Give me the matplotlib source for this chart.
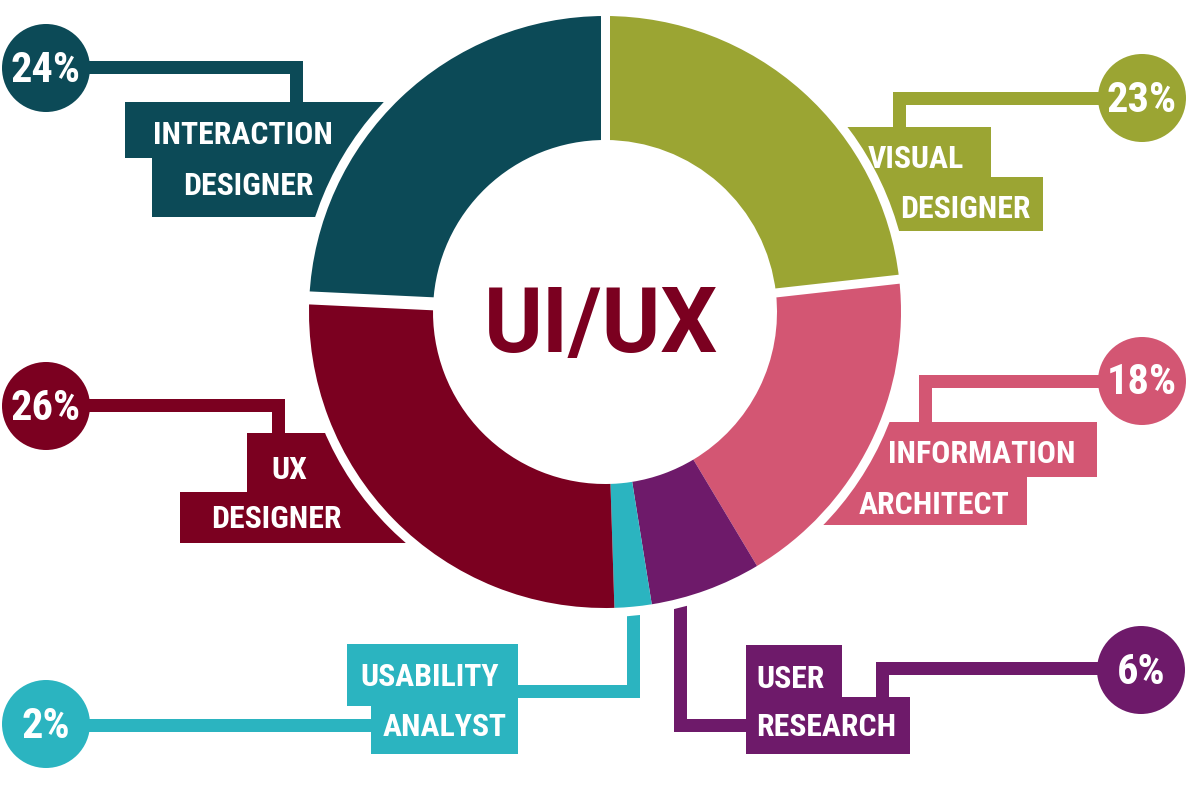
import matplotlib
matplotlib.use("Agg")
import matplotlib.pyplot as plt
from matplotlib.patches import Circle, Rectangle
from matplotlib.lines import Line2D
from matplotlib import font_manager
import numpy as np

# ---------------- data ----------------
roles_top = ["VISUAL", "INFORMATION", "USER", "USABILITY", "UX", "INTERACTION"]
roles_bottom = ["DESIGNER", "ARCHITECT", "RESEARCH", "ANALYST", "DESIGNER", "DESIGNER"]
shares = [23, 18, 6, 2, 26, 24]
colors = ["#9BA533", "#D35673", "#6E1A6A", "#2BB4C0", "#7B0020", "#0C4A57"]
center_title = "UI/UX"

# ---------------- fonts ----------------
ttf = font_manager.fontManager.ttflist
names = {f.name for f in ttf}
label_family = None
for fam in ["Liberation Sans Narrow", "Roboto Condensed", "Open Sans Condensed",
            "Noto Sans Condensed", "DejaVu Sans Condensed"]:
    if fam in names:
        label_family = fam
        break
if label_family is None:
    extra = sorted(n for n in names if ("Condensed" in n or "Narrow" in n)
                   and "Mono" not in n and "Serif" not in n and "CJK" not in n)
    if extra:
        label_family = extra[0]
if label_family is None:
    label_family = "Roboto" if "Roboto" in names else "DejaVu Sans"
LABEL_FONT = dict(family=label_family, weight="bold")
TITLE_FAMILY = "Roboto" if "Roboto" in names else "DejaVu Sans"

# ---------------- figure ----------------
W, H = 1187, 796
fig = plt.figure(figsize=(W / 100, H / 100), dpi=100)
ax = fig.add_axes([0, 0, 1, 1])
ax.set_xlim(0, W)
ax.set_ylim(H, 0)
PX = 72 / 100  # points per pixel
renderer = fig.canvas.get_renderer()


def fit_size(text, target_px, cap_pt, **kw):
    t = ax.text(0, 0, text, fontsize=20, **kw)
    w = t.get_window_extent(renderer).width
    t.remove()
    return min(20 * target_px / w, cap_pt)


LABEL_SIZE = fit_size("INTERACTION", 180, 25, **LABEL_FONT)
PCT_SIZE = fit_size("24%", 70, 34, **LABEL_FONT)
TITLE_SIZE = fit_size(center_title, 234, 70, family=TITLE_FAMILY,
                      weight="bold")

CX, CY, R, RIN = 605, 312, 296, 172

# layout of the call-outs (pixel coordinates, y downwards)
layout = [
    dict(circle=(1142, 98), path=[(1142, 98), (899, 98), (899, 132)],
         rects=[(800, 127, 991, 177), (800, 177, 1043, 231)],
         t1=(916, 157), t2=(965, 207)),
    dict(circle=(1142, 381), path=[(1142, 381), (925, 381), (925, 426)],
         rects=[(820, 422, 1097, 477), (800, 477, 1027, 525)],
         t1=(982, 452), t2=(934, 503)),
    dict(circle=(1141, 670), path=[(1141, 668), (882, 668), (882, 700)],
         rects=[(746, 645, 842, 697), (746, 697, 910, 754)],
         t1=(791, 677), t2=(826, 725),
         path2=[(680, 600), (680, 725), (750, 725)]),
    dict(circle=(46, 724), path=[(46, 725), (375, 725)],
         rects=[(347, 644, 518, 706), (371, 706, 518, 754)],
         t1=(430, 675), t2=(445, 725),
         path2=[(633, 600), (633, 691), (514, 691)]),
    dict(circle=(46, 406), path=[(46, 405), (278, 405), (278, 437)],
         rects=[(247, 433, 420, 492), (180, 492, 420, 543)],
         t1=(289, 468), t2=(276, 517)),
    dict(circle=(46, 68), path=[(46, 67), (296, 67), (296, 106)],
         rects=[(125, 102, 420, 158), (152, 158, 420, 217)],
         t1=(243, 133), t2=(248, 184)),
]

for i, lay in enumerate(layout):
    col = colors[i]
    for key in ("path", "path2"):
        if key in lay:
            xs, ys = zip(*lay[key])
            ax.add_line(Line2D(xs, ys, color=col, lw=13 * PX,
                               solid_capstyle="butt", solid_joinstyle="miter",
                               zorder=1))
    for (x0, y0, x1, y1) in lay["rects"]:
        ax.add_patch(Rectangle((x0, y0), x1 - x0, y1 - y0, facecolor=col,
                               edgecolor="none", zorder=1.5))
    ax.add_patch(Circle(lay["circle"], 44, facecolor=col, edgecolor="none",
                        zorder=2))
    ax.text(lay["circle"][0], lay["circle"][1] + 2, f"{shares[i]}%",
            color="white", fontsize=PCT_SIZE, ha="center", va="center",
            zorder=6, **LABEL_FONT)
    ax.text(lay["t1"][0], lay["t1"][1] + 2, roles_top[i], color="white",
            fontsize=LABEL_SIZE, ha="center", va="center", zorder=6,
            **LABEL_FONT)
    ax.text(lay["t2"][0], lay["t2"][1] + 2, roles_bottom[i], color="white",
            fontsize=LABEL_SIZE, ha="center", va="center", zorder=6,
            **LABEL_FONT)

# white ring separating the donut from the call-outs
ax.add_patch(Circle((CX, CY), R + 9, facecolor="white", edgecolor="none",
                    zorder=3))

# donut (y axis is inverted, so counterclock in data = clockwise on screen)
ax.pie(shares, colors=colors, startangle=-90, counterclock=True, radius=R,
       center=(CX, CY),
       wedgeprops=dict(width=R - RIN, linewidth=0, zorder=4))

# white gaps at selected slice boundaries
cum = np.cumsum([0] + shares) / sum(shares) * 360
gaps = {0: 9, 1: 9, 5: 13}
for k, wpx in gaps.items():
    phi = np.deg2rad(cum[k])
    r0, r1 = RIN - 20, R + 12
    ax.plot([CX + r0 * np.sin(phi), CX + r1 * np.sin(phi)],
            [CY - r0 * np.cos(phi), CY - r1 * np.cos(phi)],
            color="white", lw=wpx * PX, solid_capstyle="butt", zorder=5)

ax.text(CX - 4, CY + 15, center_title, color="#7B0020", fontsize=TITLE_SIZE,
        fontweight="bold", family=TITLE_FAMILY, ha="center", va="center",
        zorder=6)

ax.set_xlim(0, W)
ax.set_ylim(H, 0)
ax.set_aspect("equal")
ax.axis("off")
fig.savefig("out.png", dpi=100, facecolor="white")
